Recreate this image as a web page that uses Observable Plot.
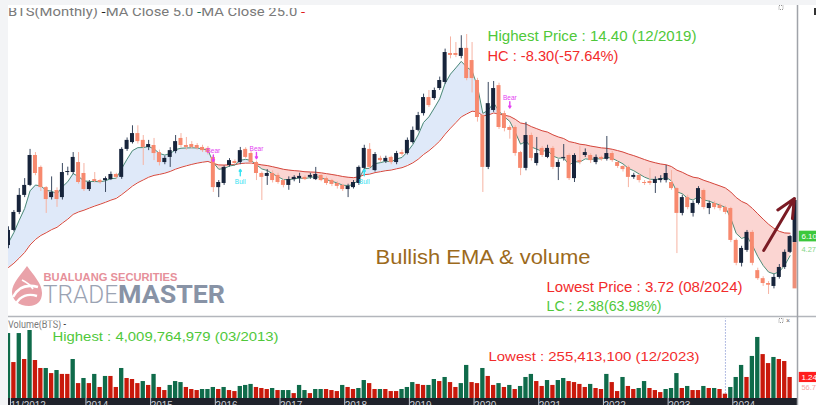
<!DOCTYPE html>
<html><head><meta charset="utf-8">
<script src="https://cdn.jsdelivr.net/npm/d3@7"></script>
<script src="https://cdn.jsdelivr.net/npm/@observablehq/plot@0.6"></script>
<style>
html,body{margin:0;padding:0;background:#f3f4f6;}
#root{position:relative;width:816px;height:405px;overflow:hidden;background:#f3f4f6;}
#panel{position:absolute;left:8px;top:5px;width:808px;height:400px;overflow:hidden;background:#fff;}
#price{position:absolute;left:-8px;top:-5px;}
#band{position:absolute;left:0;top:393px;width:789px;height:7px;background:#1f222b;}
#volume{position:absolute;left:-8px;top:311px;}
#overlay{position:absolute;left:-8px;top:-5px;pointer-events:none;}
</style></head>
<body><div id="root"><div id="panel"><div id="price"></div><div id="band"></div><div id="volume"></div>
<svg id="overlay" width="816" height="405" xmlns="http://www.w3.org/2000/svg">
  <defs>
    <clipPath id="cTitle"><rect x="8" y="8" width="420" height="14"/></clipPath>
    <clipPath id="cVol"><rect x="8" y="320.5" width="200" height="10"/></clipPath>
  </defs>
  <line x1="8" x2="816" y1="316.5" y2="316.5" stroke="#b3b6bc" stroke-width="1.5"/>
  <line x1="797.5" x2="797.5" y1="5" y2="405" stroke="#a0a3a9" stroke-width="1.5"/>
  <rect x="814" y="8" width="2" height="7" fill="#333"/>
  <rect x="779" y="5.5" width="4" height="4" fill="none" stroke="#777" stroke-width="0.8" stroke-dasharray="1,1"/>
  <rect x="779" y="318.5" width="4" height="4" fill="none" stroke="#777" stroke-width="0.8" stroke-dasharray="1,1"/>
  <text x="786" y="323" font-family="Liberation Sans, Arial" font-size="7" fill="#666">×</text>
  <g clip-path="url(#cTitle)">
    <text x="8" y="15.5" font-family="Roboto, 'Liberation Sans', Arial" font-size="13" fill="#7a7a7a" textLength="297" lengthAdjust="spacingAndGlyphs">BTS(Monthly) <tspan fill="#222">-</tspan>MA  Close 5.0 <tspan fill="#0a6e52">-</tspan>MA  Close 25.0 <tspan fill="#e01b1b">-</tspan></text>
  </g>
  <g clip-path="url(#cVol)">
    <text x="8" y="327.5" font-family="Roboto, 'Liberation Sans', Arial" font-size="10.5" fill="#7a7a7a" textLength="58" lengthAdjust="spacingAndGlyphs">Volume(BTS) <tspan fill="#222">-</tspan></text>
  </g>
  <g id="logo">
    <path d="M27,266 C33,275 42,283 42,293 C42,301 37,306 29,306 C19,306 12,300 12,292 C12,283 21,275 27,266 Z" fill="#e9a2a9"/>
    <path d="M13,297 C18,287 27,284 38,287" fill="none" stroke="#fff" stroke-width="2.6"/>
    <path d="M16,304 C20,296 28,293 37,296" fill="none" stroke="#fff" stroke-width="2.4"/>
    <path d="M22,280 C26,282 30,284 33,289" fill="none" stroke="#fff" stroke-width="1.6"/>
    <text x="43.5" y="280.5" font-family="'Liberation Sans', Arial" font-weight="bold" font-size="11.3" fill="#e6909a" textLength="134" lengthAdjust="spacingAndGlyphs">BUALUANG SECURITIES</text>
    <text x="43" y="302.5" font-family="Roboto, 'Liberation Sans', Arial" font-weight="300" font-size="26.5" fill="#9ba3b3" textLength="75" lengthAdjust="spacingAndGlyphs">TRADE</text>
    <text x="118" y="302.5" font-family="Roboto, 'Liberation Sans', Arial" font-weight="bold" font-size="26.5" fill="#8893a6" textLength="107" lengthAdjust="spacingAndGlyphs">MASTER</text>
  </g>
</svg>
</div></div>
<script>
// ---------- data (monthly, index 0 = 11/2012) ----------
const tickIndex  = [0, 14, 26, 38, 50, 62, 74, 86, 98, 110, 122, 134];
const tickLabels = ["11/2012","2014","2015","2016","2017","2018","2019","2020","2021","2022","2023","2024"];

const open = [
 5.73,6.35,7.09,7.79,8.20,9.43,8.94,8.11,7.70,7.99,
 7.70,8.73,8.73,9.14,8.69,8.03,8.44,8.40,8.40,8.44,
 8.65,8.53,9.68,9.96,10.33,10.05,9.76,9.84,9.55,9.14,
 9.35,9.59,10.13,9.84,9.88,9.84,9.76,9.72,9.35,8.11,
 8.28,9.02,9.18,9.14,9.68,9.51,9.14,8.69,8.57,8.69,
 8.61,8.40,8.20,8.44,8.48,8.53,8.53,8.44,8.61,8.48,
 8.40,8.28,8.20,8.03,8.11,8.28,8.90,9.68,8.81,9.31,
 9.18,9.35,9.14,9.55,9.51,9.96,10.46,11.15,11.81,11.77,
 12.18,12.43,13.62,13.62,13.50,13.83,13.33,12.51,11.07,8.94,
 11.28,12.30,11.15,10.58,10.58,9.55,8.90,10.25,9.10,9.72,
 9.35,9.72,8.94,9.31,9.43,8.48,9.22,9.43,9.43,9.14,
 9.35,9.27,9.51,9.14,8.98,8.94,8.53,8.61,8.32,8.36,
 8.28,8.40,8.40,8.32,8.07,7.05,7.70,7.05,7.46,7.99,
 7.25,7.46,7.38,7.29,7.25,5.94,5.00,5.53,6.27,4.70,
 4.37,4.17,4.05,4.42,4.83,5.45];
const high = [
 6.50,7.17,8.07,8.48,9.68,9.55,9.00,8.15,8.55,8.10,
 9.10,8.95,9.55,9.55,9.10,8.40,8.73,8.45,8.55,8.75,
 8.70,9.75,10.15,10.65,10.65,10.25,10.05,10.13,9.65,9.40,
 9.75,10.25,10.33,10.17,10.00,9.92,9.85,9.80,9.40,8.40,
 9.00,9.30,9.25,9.76,9.75,9.60,9.20,8.75,8.85,8.80,
 8.70,8.45,8.55,8.60,8.70,8.60,8.70,8.94,8.70,8.55,
 8.45,8.35,8.25,8.25,8.40,9.00,9.85,9.92,9.55,9.40,
 9.40,9.40,9.60,9.65,10.15,10.60,11.20,11.95,12.10,12.20,
 12.65,13.80,14.30,14.07,14.35,14.40,14.07,12.60,11.15,12.43,
 12.47,12.40,11.25,10.65,10.65,9.60,10.79,10.35,10.17,9.80,
 9.85,9.80,9.25,9.88,9.50,9.50,9.80,9.70,9.50,9.45,
 9.40,10.21,9.60,9.20,9.00,9.00,8.70,8.65,8.40,8.90,
 8.55,8.60,9.02,8.81,8.10,7.80,7.80,7.55,8.15,8.05,
 7.55,7.55,7.45,7.35,7.30,6.00,5.70,6.35,6.35,4.80,
 4.45,4.25,4.55,4.95,5.55,6.15];
const low = [
 5.60,6.30,7.00,7.70,8.15,8.60,7.95,7.05,7.60,7.30,
 7.60,8.60,8.65,8.25,7.95,7.95,8.30,8.25,7.91,8.40,
 8.45,8.45,9.60,9.90,9.90,9.02,9.63,9.22,9.00,9.05,
 8.94,9.50,9.75,9.65,9.70,9.65,9.55,9.45,7.91,7.70,
 8.20,8.95,9.05,9.05,9.30,9.05,8.40,7.58,8.20,8.30,
 8.25,8.10,8.00,8.35,8.28,8.40,8.45,8.40,8.35,8.20,
 8.15,8.05,7.95,7.70,8.05,8.20,8.85,8.85,8.75,9.15,
 9.10,9.05,9.05,9.40,9.45,9.90,10.40,11.05,11.40,11.70,
 12.10,12.35,13.40,13.45,13.40,12.50,12.00,10.80,7.91,8.85,
 11.20,10.50,10.40,10.10,9.40,8.60,8.80,9.20,9.00,9.35,
 9.30,8.85,8.40,9.20,8.40,8.32,9.05,9.35,9.10,9.05,
 9.20,9.20,9.15,8.90,8.75,8.11,8.45,8.30,8.20,8.20,
 7.87,8.30,8.30,8.00,5.40,6.95,7.20,6.90,7.40,7.20,
 7.00,7.20,7.15,7.00,5.85,4.90,4.85,5.45,4.90,4.30,
 4.05,3.72,3.95,4.35,4.75,5.40];
const close = [
 6.35,7.09,7.79,8.20,9.43,8.69,8.11,7.62,7.91,7.62,
 8.73,8.77,9.35,8.32,8.03,8.32,8.36,8.32,8.48,8.65,
 8.53,9.68,10.05,10.33,10.00,9.76,9.88,9.51,9.14,9.31,
 9.63,10.00,9.84,9.76,9.76,9.72,9.63,9.55,8.11,8.32,
 8.94,9.22,9.10,9.63,9.35,9.14,8.69,8.53,8.69,8.40,
 8.32,8.20,8.44,8.53,8.57,8.44,8.61,8.65,8.40,8.28,
 8.24,8.16,8.03,8.16,8.32,8.94,9.72,8.94,9.47,9.22,
 9.31,9.14,9.51,9.47,10.05,10.46,11.07,11.81,11.48,12.10,
 12.51,13.66,13.54,13.54,13.83,12.59,12.59,10.99,8.94,11.56,
 12.18,10.58,10.54,10.46,9.51,8.90,10.25,9.31,9.51,9.43,
 9.72,8.94,9.14,9.35,8.48,9.43,9.14,9.55,9.22,9.35,
 9.27,9.51,9.22,8.98,8.85,8.53,8.61,8.40,8.28,8.28,
 8.44,8.48,8.69,8.07,7.05,7.70,7.29,7.46,8.07,7.29,
 7.46,7.29,7.25,7.09,5.94,5.00,5.61,6.27,5.00,4.37,
 4.17,4.10,4.42,4.83,5.45,6.10];

// volume in billions of shares
const volume = [
 3.83,2.12,3.83,2.30,4.0098,2.24,1.77,1.77,1.47,1.65,
 1.42,1.42,2.30,0.88,1.18,0.88,1.42,0.65,1.30,1.30,
 0.65,1.77,1.18,1.12,0.88,1.00,0.77,1.42,0.65,0.47,
 0.77,1.00,0.94,0.65,0.53,0.47,0.53,0.53,0.65,0.53,
 0.65,0.47,0.41,0.71,0.77,0.83,0.65,0.59,0.53,0.59,
 0.47,0.47,0.47,0.29,0.77,0.47,0.29,0.53,0.53,0.53,
 0.47,0.41,0.77,0.65,0.53,0.59,1.06,0.88,0.53,0.53,
 0.53,0.41,0.41,0.53,0.65,0.94,0.83,0.77,0.77,1.12,
 1.00,1.24,0.94,0.65,0.88,1.95,0.94,0.88,1.77,1.30,
 0.77,0.88,0.65,0.77,0.53,0.71,1.24,1.42,1.00,0.71,
 1.06,0.77,1.06,1.18,1.00,0.94,0.83,0.65,0.83,0.59,
 0.53,1.42,0.94,0.41,1.24,0.71,0.53,0.59,1.00,0.59,
 0.47,0.35,0.53,0.59,1.47,0.59,0.71,0.47,0.47,0.71,
 0.59,0.59,0.53,0.255,0.65,1.24,1.95,1.24,2.48,3.60,
 2.59,2.06,2.42,2.30,2.18,1.24];
const volumeDir = (
 "u d u d u d d u d u " + "d d u d u d u d u d " + "d u d d d u d u d d " +
 "u u u d d d u u u d " + "u d d u u u d d d u " + "d u u d u u d u u d " +
 "d d u d d u u d d u " + "d d d u u u d d u u " + "d u d d u u d d u d " +
 "d u d u d u u u d d " + "u d u u d d d d u d " + "d u d d u d d u u d " +
 "d d u u u d u d d u " + "d u d d u u u d u u " + "d d u d d d").split(" ");

// averages start values read at the left edge
const ema5Start = 5.85, ema25Start = 4.83;

// right-edge partial bar (current period) segments
const edgeSegments = [{from: 5.85, to: 7.58, dir: "u"}, {from: 3.95, to: 5.85, dir: "d"}];
const edgeIndex = 146;

// signal markers
const bearMarks = [{i: 38, text: 9.63, top: 9.45, tip: 9.18}, {i: 46, text: 9.72, top: 9.55, tip: 9.30}, {i: 93, text: 11.81, top: 11.64, tip: 11.38}];
const bullMarks = [{i: 43, base: 8.60, tip: 8.86, text: 8.36}, {i: 66, base: 8.60, tip: 8.86, text: 8.36}];

// trend arrow annotation
const trendArrow = [{x1: 140.1, y1: 5.53, x2: 145.8, y2: 7.66}];

const lastClose = 6.10, lastVolume = 1.24, crosshairIndex = 133;

// ---------- derived ----------
const candles = open.map((o, i) => ({i, open: o, high: high[i], low: low[i], close: close[i]}));
const ema = [];
{
  let e5 = ema5Start, e25 = ema25Start;
  close.forEach((c, i) => {
    if (i > 0) { e5 += (c - e5) * 2 / 6; e25 += (c - e25) * 2 / 26; }
    ema.push({i, e5, e25});
  });
}
const vols = volume.map((v, i) => ({i, v, dir: volumeDir[i]}));

const UP = "#17243b", DOWN = "#f7896e", UPW = "#3b4960", DOWNW = "#f6b3a3";
const FONT = "'Liberation Sans', Arial, sans-serif";
const GREEN = "#4fc83a", RED = "#f22b2b";

const price = Plot.plot({
  width: 816, height: 316,
  marginLeft: 8, marginRight: 21, marginTop: 19.4, marginBottom: 4.5,
  x: {domain: [0, 146], axis: null},
  y: {domain: [3, 15], axis: null},
  style: {background: "transparent", fontFamily: FONT, overflow: "visible"},
  marks: [
    Plot.areaY(ema, {x: "i", y1: "e25", y2: d => Math.max(d.e5, d.e25), fill: "#dfe9f9"}),
    Plot.areaY(ema, {x: "i", y1: "e25", y2: d => Math.min(d.e5, d.e25), fill: "#fbd5d2"}),
    Plot.line(ema, {x: "i", y: "e25", stroke: "#d4473d", strokeWidth: 1}),
    Plot.line(ema, {x: "i", y: "e5", stroke: "#4f8c78", strokeWidth: 1}),
    Plot.ruleX(candles, {x: "i", y1: "low", y2: "high", stroke: d => d.close >= d.open ? UPW : DOWNW, strokeWidth: 1}),
    Plot.rect(candles, {x1: d => d.i - 0.37, x2: d => d.i + 0.37, y1: "open", y2: "close", fill: d => d.close >= d.open ? UP : DOWN}),
    Plot.rect(edgeSegments, {x1: edgeIndex - 0.45, x2: edgeIndex + 0.3, y1: "from", y2: "to", fill: d => d.dir === "u" ? UP : "#ee8f78"}),
    Plot.text(bearMarks, {x: "i", y: "text", text: () => "Bear", fill: "#e442f2", fontSize: 6.5}),
    Plot.arrow(bearMarks, {x1: "i", x2: "i", y1: "top", y2: "tip", stroke: "#e442f2", strokeWidth: 1.4, headLength: 4}),
    Plot.text(bullMarks, {x: "i", y: "text", text: () => "Bull", fill: "#35e2f2", fontSize: 6.5}),
    Plot.arrow(bullMarks, {x1: "i", x2: "i", y1: "base", y2: "tip", stroke: "#35e2f2", strokeWidth: 1.4, headLength: 4}),
    Plot.arrow(trendArrow, {x1: "x1", y1: "y1", x2: "x2", y2: "y2", stroke: "#7a1b24", strokeWidth: 3, headLength: 13, headAngle: 50}),
    Plot.rect([lastClose], {x1: 146.7, x2: 150, y1: d => d - 0.22, y2: d => d + 0.22, fill: "#3cc83c"}),
    Plot.text([lastClose], {x: 147.1, y: d => d, text: d => d.toFixed(2), fill: "white", fontSize: 8, textAnchor: "start"}),
    Plot.text([lastClose], {x: 147.1, y: d => d, dy: 13, text: () => "4.27", fill: "#86d686", fontSize: 7.5, textAnchor: "start"}),
    Plot.text(["Highest Price : 14.40 (12/2019)"], {frameAnchor: "top-left", dx: 479, dy: 16.6, fill: GREEN, fontSize: 14, textAnchor: "start", lineAnchor: "middle"}),
    Plot.text(["HC : -8.30(-57.64%)"], {frameAnchor: "top-left", dx: 479, dy: 36.6, fill: RED, fontSize: 14, textAnchor: "start", lineAnchor: "middle"}),
    Plot.text(["Bullish EMA & volume"], {frameAnchor: "top-left", dx: 367, dy: 237.6, fill: "#9c6a1c", fontSize: 21, textAnchor: "start", lineAnchor: "middle"}),
    Plot.text(["Lowest Price : 3.72 (08/2024)"], {frameAnchor: "top-left", dx: 538, dy: 267.6, fill: RED, fontSize: 14, textAnchor: "start", lineAnchor: "middle"}),
    Plot.text(["LC : 2.38(63.98%)"], {frameAnchor: "top-left", dx: 538, dy: 286.6, fill: GREEN, fontSize: 14, textAnchor: "start", lineAnchor: "middle"})
  ]
});

const volPlot = Plot.plot({
  width: 816, height: 89,
  marginLeft: 8, marginRight: 21, marginTop: 0.6, marginBottom: 7,
  x: {domain: [0, 146], axis: null},
  y: {domain: [0, 4.8], axis: null},
  style: {background: "transparent", fontFamily: FONT, overflow: "visible"},
  marks: [
    Plot.ruleX([crosshairIndex], {x: d => d, y1: volume[crosshairIndex], y2: 4.7, stroke: "#9aa6da", strokeWidth: 1, strokeDasharray: "1.5,1.5"}),
    Plot.rect(vols, {x1: d => d.i - 0.4, x2: d => d.i + 0.4, y1: 0, y2: "v", fill: d => d.dir === "u" ? "#0f6b4a" : "#c9190b"}),
    Plot.axisX({ticks: tickIndex, tickFormat: d => tickLabels[tickIndex.indexOf(d)], tickSize: 7, tickPadding: -4, textAnchor: "start", dx: 2, color: "#c9ccd3", fontSize: 10, label: null}),
    Plot.rect([lastVolume], {x1: 146.7, x2: 150, y1: d => d - 0.3, y2: d => d + 0.3, fill: "#ff1e1e"}),
    Plot.text([lastVolume], {x: 147.1, y: d => d, text: d => d.toFixed(2), fill: "white", fontSize: 8, textAnchor: "start"}),
    Plot.text([lastVolume], {x: 147.1, y: d => d, dy: 10, text: () => "56.7", fill: "#f5a3a3", fontSize: 7.5, textAnchor: "start"}),
    Plot.text(["Highest : 4,009,764,979 (03/2013)"], {frameAnchor: "top-left", dx: 44, dy: 19.4, fill: GREEN, fontSize: 13.5, textAnchor: "start", lineAnchor: "middle"}),
    Plot.text(["Lowest : 255,413,100 (12/2023)"], {frameAnchor: "top-left", dx: 480, dy: 39.4, fill: RED, fontSize: 13.5, textAnchor: "start", lineAnchor: "middle"})
  ]
});

const widths = {
  "Highest Price : 14.40 (12/2019)": 209, "HC : -8.30(-57.64%)": 131, "Bullish EMA & volume": 215,
  "Lowest Price : 3.72 (08/2024)": 196, "LC : 2.38(63.98%)": 115,
  "Highest : 4,009,764,979 (03/2013)": 226, "Lowest : 255,413,100 (12/2023)": 211
};
for (const svg of [price, volPlot]) {
  d3.select(svg).selectAll("text").each(function () {
    const w = widths[this.textContent];
    if (w) { this.setAttribute("textLength", w); this.setAttribute("lengthAdjust", "spacingAndGlyphs"); }
  });
}
document.getElementById("price").appendChild(price);
document.getElementById("volume").appendChild(volPlot);
</script>
</body></html>
